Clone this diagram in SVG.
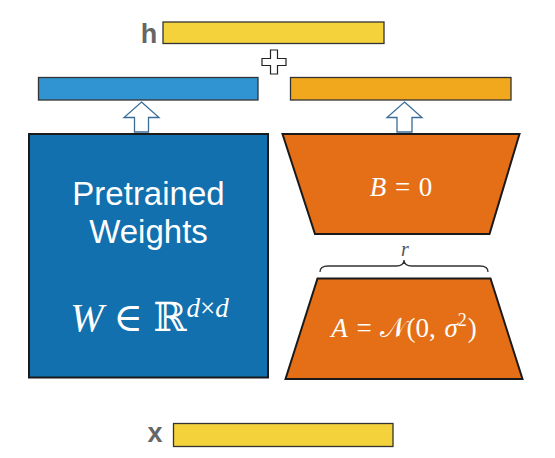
<svg xmlns="http://www.w3.org/2000/svg" width="555" height="458" viewBox="0 0 555 458">
<style>
.bar{stroke:#333;stroke-width:1.3}
.lbl{font-family:"Liberation Sans",Arial,sans-serif;font-weight:bold;fill:#666}
.sans{font-family:"Liberation Sans",Arial,sans-serif;fill:#fff}
.math{font-family:"Liberation Serif","DejaVu Serif",serif;fill:#fff}
.it{font-style:italic}
.arrow{fill:#fff;stroke:#3a6d98;stroke-width:1.3}
.box{stroke:#1a1a1a;stroke-width:2}
</style>
<rect width="555" height="458" fill="#fff"/>
<g id="h">
<text class="lbl" x="149" y="43" font-size="27" text-anchor="middle">h</text>
<rect class="bar" x="163" y="22" width="221" height="21.5" fill="#f4d23c"/>
</g>
<g id="plus">
<path d="M270.5,50 H277.5 V58.5 H286 V65.5 H277.5 V74 H270.5 V65.5 H262 V58.5 H270.5 Z" fill="#fff" stroke="#222" stroke-width="1.2"/>
</g>
<g id="out-w">
<rect class="bar" x="38.5" y="77.5" width="219.5" height="22.5" fill="#3194d2"/>
</g>
<g id="out-ba">
<rect class="bar" x="290.5" y="77.5" width="220.5" height="22.5" fill="#f2a81d"/>
</g>
<g id="connectors">
<path class="arrow" d="M141.5,102 L159,117.5 L148.5,117.5 L148.5,132 L134.5,132 L134.5,117.5 L124,117.5 Z"/>
<path class="arrow" d="M404.5,102 L422,117.5 L412,117.5 L412,132 L397,132 L397,117.5 L387,117.5 Z"/>
</g>
<g id="weights">
<rect class="box" x="29" y="134" width="239" height="243.5" fill="#1170ad"/>
<text class="sans" x="148.5" y="205" font-size="33" text-anchor="middle">Pretrained</text>
<text class="sans" x="148.5" y="243" font-size="33" text-anchor="middle">Weights</text>
<text class="math" x="149.5" y="331" font-size="40" text-anchor="middle"><tspan class="it">W</tspan> ∈ ℝ<tspan class="it" font-size="27" dy="-14">d</tspan><tspan font-size="27">×</tspan><tspan class="it" font-size="27">d</tspan></text>
</g>
<g id="B">
<path class="box" d="M282.5,134 L519.5,134 L489.5,234 L315,234 Z" fill="#e46f16"/>
<text class="math" x="401" y="196" font-size="27" text-anchor="middle"><tspan class="it">B</tspan><tspan dx="2"> = </tspan><tspan dx="2">0</tspan></text>
</g>
<g id="rank">
<path d="M320,272 Q320,266 328,266 L396,266 Q404,266 404,260 Q404,266 412,266 L480,266 Q488,266 488,272" fill="none" stroke="#333" stroke-width="1.3"/>
<text x="405" y="256" font-size="20" text-anchor="middle" font-family="Liberation Serif,serif" font-style="italic" fill="#555">r</text>
</g>
<g id="A">
<path class="box" d="M317.5,278.5 L490.5,278.5 L522.5,379 L285.5,379 Z" fill="#e46f16"/>
<text class="math" x="404" y="337" font-size="27" text-anchor="middle"><tspan class="it">A</tspan><tspan dx="2"> = </tspan><tspan dx="2">𝒩(0, </tspan><tspan dx="2" class="it">σ</tspan><tspan font-size="18" dy="-11">2</tspan><tspan dy="11" dx="1">)</tspan></text>
</g>
<g id="x">
<text class="lbl" x="155" y="442" font-size="27" text-anchor="middle">x</text>
<rect class="bar" x="173.5" y="423.5" width="219.5" height="23" fill="#f4d23c"/>
</g>
</svg>
